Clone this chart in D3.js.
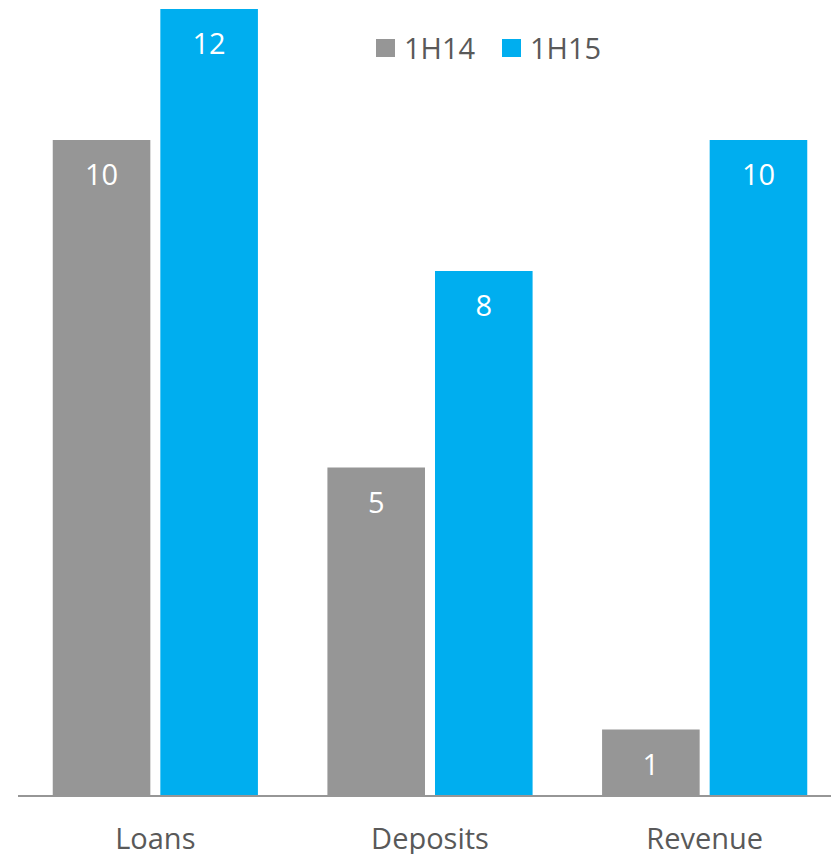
<!DOCTYPE html>
<html>
<head>
<meta charset="utf-8">
<script src="https://cdn.jsdelivr.net/npm/d3@7"></script>
<style>
  body { margin: 0; background: #fff; }
  text { font-family: "Open Sans", "Noto Sans", sans-serif; }
</style>
</head>
<body>
<div id="chart"></div>
<script>
// Data
const categories = ["Loans", "Deposits", "Revenue"];
const seriesNames = ["1H14", "1H15"];
const values1H14 = [10, 5, 1];
const values1H15 = [12, 8, 10];

const colors = {"1H14": "#969696", "1H15": "#00AEEF"};

const width = 831,
    height = 854;

const svg = d3.select("#chart")
  .append("svg")
  .attr("width", width)
  .attr("height", height);

const rows = categories.map((c, i) => ({
  cat: c,
  vals: [
    {key: "1H14", value: values1H14[i]},
    {key: "1H15", value: values1H15[i]}
  ]
}));

// Scales
const x0 = d3.scaleBand()
  .domain(categories)
  .range([18, 842])
  .paddingInner(0.253)
  .paddingOuter(0.1265);

const x1 = d3.scaleBand()
  .domain(seriesNames)
  .range([0, x0.bandwidth()])
  .paddingInner(0.093);

const y = d3.scaleLinear()
  .domain([0, 12])
  .range([795, 9]);

// Bars
const groups = svg.selectAll("g.group")
  .data(rows)
  .join("g")
  .attr("class", "group")
  .attr("transform", d => `translate(${x0(d.cat)},0)`);

groups.selectAll("rect")
  .data(d => d.vals)
  .join("rect")
  .attr("x", d => x1(d.key))
  .attr("y", d => y(d.value))
  .attr("width", x1.bandwidth())
  .attr("height", d => y(0) - y(d.value))
  .attr("fill", d => colors[d.key]);

// Value labels inside bars
groups.selectAll("text.val")
  .data(d => d.vals)
  .join("text")
  .attr("class", "val")
  .attr("x", d => x1(d.key) + x1.bandwidth() / 2)
  .attr("y", d => y(d.value) + 45)
  .attr("text-anchor", "middle")
  .attr("fill", "#fff")
  .style("font-size", "29px")
  .text(d => d.value);

// Baseline
svg.append("line")
  .attr("x1", 18)
  .attr("x2", width)
  .attr("y1", y(0) + 1)
  .attr("y2", y(0) + 1)
  .attr("stroke", "#969696")
  .attr("stroke-width", 2);

// Category labels
svg.selectAll("text.cat")
  .data(categories)
  .join("text")
  .attr("class", "cat")
  .attr("x", d => x0(d) + x0.bandwidth() / 2)
  .attr("y", 849)
  .attr("text-anchor", "middle")
  .attr("fill", "#595959")
  .style("font-size", "29px")
  .text(d => d);

// Legend
const legend = svg.append("g")
  .selectAll("g")
  .data(seriesNames)
  .join("g")
  .attr("transform", (d, i) => `translate(${376 + i * 126},39)`);

legend.append("rect")
  .attr("width", 19)
  .attr("height", 18)
  .attr("fill", d => colors[d]);

legend.append("text")
  .attr("x", 28)
  .attr("y", 20)
  .attr("fill", "#595959")
  .style("font-size", "29px")
  .text(d => d);
</script>
</body>
</html>
